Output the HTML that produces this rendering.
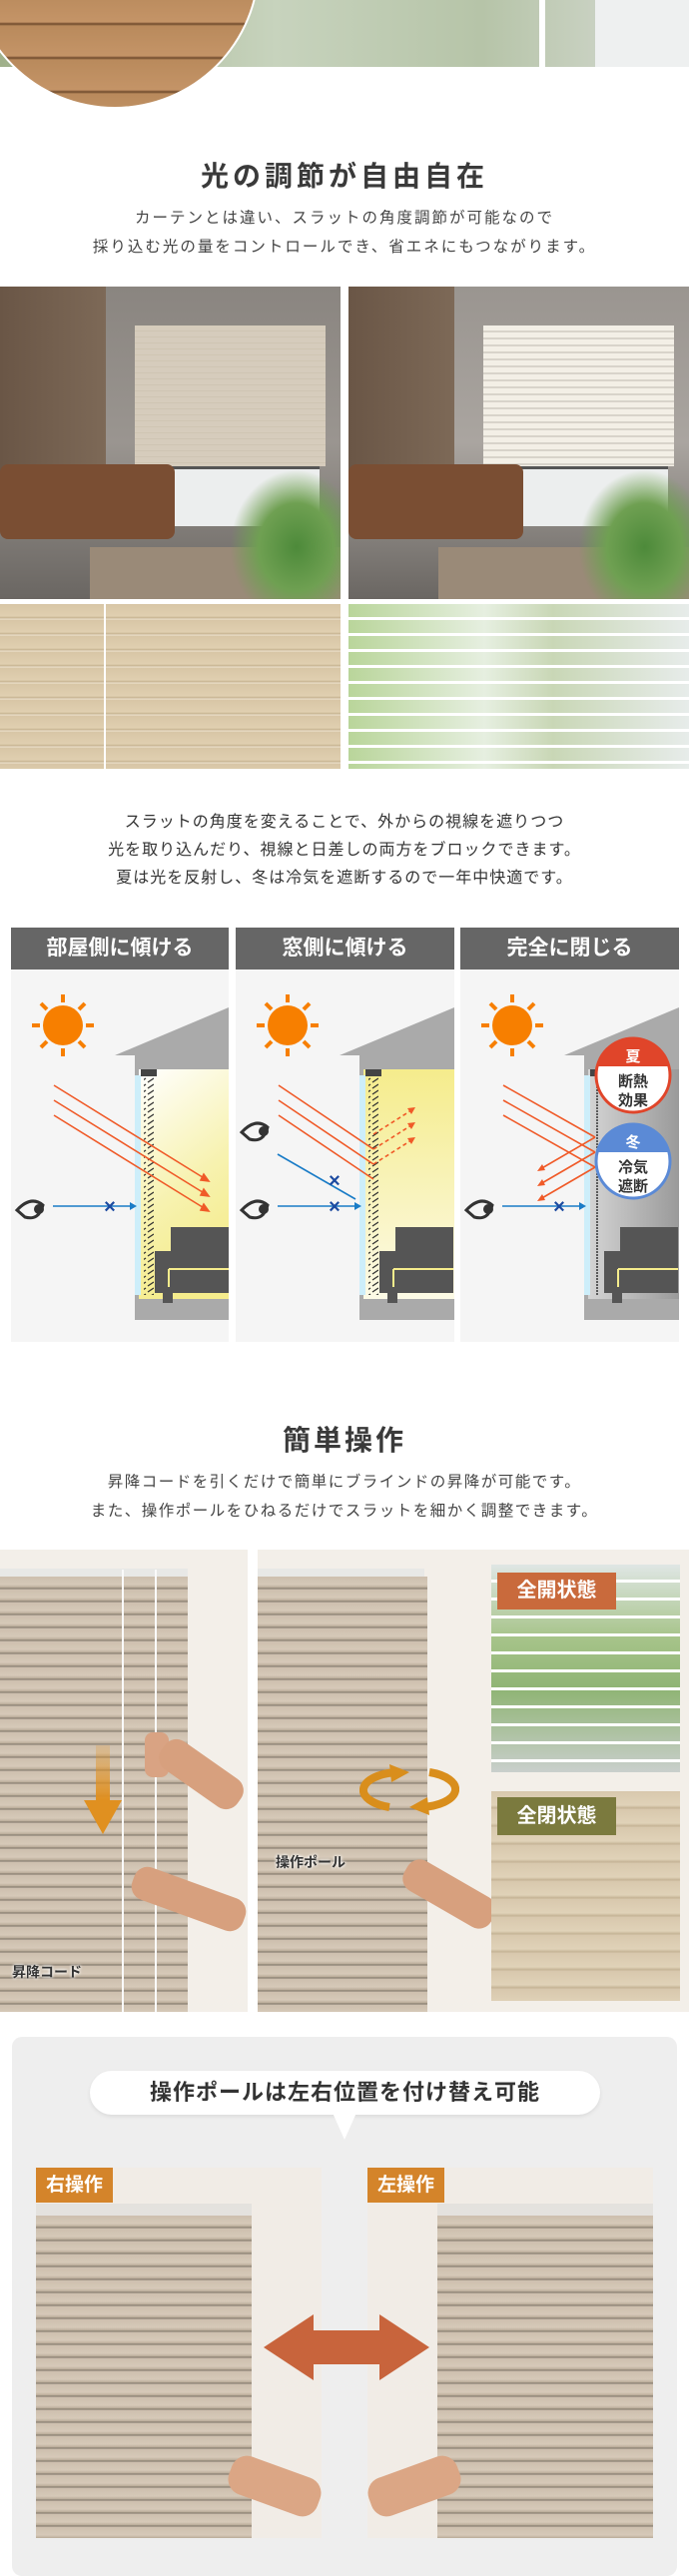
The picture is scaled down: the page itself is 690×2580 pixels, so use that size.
<!DOCTYPE html>
<html><head><meta charset="utf-8">
<style>
*{margin:0;padding:0;box-sizing:border-box}
body{width:690px;height:2560px;background:#fff;position:relative;overflow:hidden;font-family:"Liberation Sans","Noto Sans CJK JP",sans-serif;color:#333}
.a{position:absolute}
.t{position:absolute;left:0;width:690px;text-align:center}
.slat{background:repeating-linear-gradient(180deg,#cdbfae 0,#d6c9b8 8px,#b9ab99 11px,#7d7468 12px,#cdbfae 13px)}
.hd{position:absolute;top:929px;height:42px;background:#666;color:#fff;font-size:21px;font-weight:bold;text-align:center;line-height:42px}
.badge{position:absolute;color:#fff;font-weight:bold;text-align:center}
</style></head><body>

<!-- top strip -->
<div class="a" style="left:0;top:0;width:690px;height:67px;background:linear-gradient(90deg,#9fb08a,#c7d3bd 40%,#b6c4a8 70%,#d8dcd6)"></div>
<div class="a" style="left:540px;top:0;width:6px;height:67px;background:#fff"></div>
<div class="a" style="left:596px;top:0;width:94px;height:67px;background:#eef0f0"></div>
<div class="a" style="left:-30px;top:-180px;width:290px;height:289px;border-radius:50%;background:repeating-linear-gradient(180deg,#b98a5c 0,#c49467 30px,#6e4a2c 32px,#b98a5c 34px);border:2px solid #fff"></div>

<div class="t" style="top:155px;font-size:28px;font-weight:bold;letter-spacing:4px;color:#3a3a3a">光の調節が自由自在</div>
<div class="t" style="top:204px;font-size:15.5px;line-height:29px;letter-spacing:2px;color:#444">カーテンとは違い、スラットの角度調節が可能なので<br>採り込む光の量をコントロールでき、省エネにもつながります。</div>

<!-- room photos -->
<div class="a" style="left:0;top:287px;width:341px;height:313px;background:linear-gradient(180deg,#8a8580,#9a9590 50%,#6a6662)"></div>
<div class="a" style="left:0;top:287px;width:106px;height:230px;background:linear-gradient(90deg,#6a5646,#7d6957)"></div>
<div class="a" style="left:135px;top:326px;width:191px;height:141px;background:repeating-linear-gradient(180deg,#d6ccbc 0,#d6ccbc 5px,#c8bdab 6px)"></div>
<div class="a" style="left:140px;top:467px;width:180px;height:60px;background:#eceeee;border-top:3px solid #555"></div>
<div class="a" style="left:0;top:465px;width:175px;height:75px;background:#7a4e33;border-radius:8px"></div>
<div class="a" style="left:90px;top:548px;width:251px;height:52px;background:#9a8a78"></div>
<div class="a" style="left:230px;top:470px;width:111px;height:130px;background:radial-gradient(ellipse at 60% 60%,#4d8a3a,#6fa052 40%,transparent 70%)"></div>

<div class="a" style="left:349px;top:287px;width:341px;height:313px;background:linear-gradient(180deg,#9a9590,#aaa5a0 50%,#6a6662)"></div>
<div class="a" style="left:349px;top:287px;width:106px;height:230px;background:linear-gradient(90deg,#6a5646,#7d6957)"></div>
<div class="a" style="left:484px;top:326px;width:191px;height:141px;background:repeating-linear-gradient(180deg,#f3efe6 0,#f3efe6 5px,#bdb8ae 6px,#f3efe6 7px)"></div>
<div class="a" style="left:489px;top:467px;width:180px;height:60px;background:#eceeee;border-top:3px solid #555"></div>
<div class="a" style="left:349px;top:465px;width:175px;height:75px;background:#7a4e33;border-radius:8px"></div>
<div class="a" style="left:439px;top:548px;width:251px;height:52px;background:#9a8a78"></div>
<div class="a" style="left:579px;top:470px;width:111px;height:130px;background:radial-gradient(ellipse at 60% 60%,#4d8a3a,#6fa052 40%,transparent 70%)"></div>

<!-- slat closeups -->
<div class="a" style="left:0;top:605px;width:341px;height:165px;background:repeating-linear-gradient(180deg,#d8c6a6 0,#e0cfb0 12px,#c6b290 14px,#f0e6d4 15px,#d8c6a6 16px)"></div>
<div class="a" style="left:104px;top:605px;width:2px;height:165px;background:#fff"></div>
<div class="a" style="left:349px;top:605px;width:341px;height:165px;background:linear-gradient(90deg,#b9d59a,#e6efe0 40%,#c9d7b6 60%,#e7ecea)"></div>
<div class="a" style="left:349px;top:605px;width:341px;height:165px;background:repeating-linear-gradient(180deg,transparent 0,transparent 13px,#fff 13px,#fff 16px)"></div>

<!-- section 2 text -->
<div class="t" style="top:810px;font-size:16px;line-height:28px;letter-spacing:1px;color:#333">スラットの角度を変えることで、外からの視線を遮りつつ<br>光を取り込んだり、視線と日差しの両方をブロックできます。<br>夏は光を反射し、冬は冷気を遮断するので一年中快適です。</div>

<div class="hd" style="left:11px;width:218px">部屋側に傾ける</div>
<div class="hd" style="left:236px;width:219px">窓側に傾ける</div>
<div class="hd" style="left:461px;width:219px">完全に閉じる</div>

<!-- panels -->
<svg class="a" style="left:11px;top:971px" width="669" height="373" viewBox="0 0 669 373">
<defs>
<linearGradient id="y1" x1="0" y1="0" x2="0.3" y2="1"><stop offset="0" stop-color="#fff"/><stop offset="0.6" stop-color="#f7f2b0"/><stop offset="1" stop-color="#f5ec8c"/></linearGradient>
<linearGradient id="y2" x1="0" y1="0" x2="0" y2="1"><stop offset="0" stop-color="#f5ec8c"/><stop offset="1" stop-color="#fcfae6"/></linearGradient>
<linearGradient id="g3" x1="0" y1="0" x2="1" y2="0"><stop offset="0" stop-color="#d4d4d4"/><stop offset="1" stop-color="#9a9a9a"/></linearGradient>
<pattern id="h" width="8" height="6" patternUnits="userSpaceOnUse"><line x1="1" y1="5" x2="7" y2="1" stroke="#333" stroke-width="1.3"/></pattern>
<g id="sun"><circle cx="52" cy="56" r="20" fill="#f77f00"/>
<g stroke="#f77f00" stroke-width="4"><line x1="52" y1="25" x2="52" y2="33"/><line x1="52" y1="79" x2="52" y2="87"/><line x1="21" y1="56" x2="29" y2="56"/><line x1="75" y1="56" x2="83" y2="56"/><line x1="30" y1="34" x2="36" y2="40"/><line x1="68" y1="72" x2="74" y2="78"/><line x1="74" y1="34" x2="68" y2="40"/><line x1="30" y1="78" x2="36" y2="72"/></g></g>
<g id="sofa" fill="#555"><rect x="160" y="258" width="58" height="50"/><rect x="144" y="282" width="74" height="42"/><rect x="152" y="324" width="10" height="10"/><path d="M158 300 H218 M158 300 V318" stroke="#f5ec8c" stroke-width="2" fill="none"/></g>
<g id="eye"><path d="M6 241 Q20 226 32 236 Q28 252 14 248 Z" fill="none" stroke="#333" stroke-width="3"/><circle cx="28" cy="240" r="5" fill="#333"/></g>
</defs>
<!-- panel 1 -->
<rect x="0" y="0" width="218" height="373" fill="#f5f5f5"/>
<use href="#sun"/>
<polygon points="104,86 218,38 218,351 124,351 124,86" fill="#aaa"/>
<rect x="128" y="100" width="90" height="230" fill="url(#y1)"/>
<rect x="124" y="106" width="6" height="220" fill="#cdeefa"/>
<rect x="130" y="100" width="16" height="7" fill="#444"/>
<rect x="133" y="108" width="10" height="218" fill="url(#h)"/>
<use href="#sofa"/>
<g stroke="#f05a28" stroke-width="1.6" fill="#f05a28"><line x1="43" y1="116" x2="195" y2="210"/><line x1="43" y1="131" x2="195" y2="225"/><line x1="43" y1="146" x2="195" y2="240"/>
<polygon points="198,212 190,211 193,205"/><polygon points="198,227 190,226 193,220"/><polygon points="198,242 190,241 193,235"/></g>
<use href="#eye"/>
<line x1="42" y1="237" x2="120" y2="237" stroke="#1a7cc7" stroke-width="1.6"/><polygon points="126,237 119,233 119,241" fill="#1a7cc7"/>
<text x="99" y="244" font-size="20" font-weight="bold" fill="#1c4aa0" text-anchor="middle" font-family="Liberation Sans">×</text>
<!-- panel 2 -->
<g transform="translate(225,0)">
<rect x="0" y="0" width="219" height="373" fill="#f5f5f5"/>
<use href="#sun"/>
<polygon points="104,86 219,38 219,351 124,351 124,86" fill="#aaa"/>
<rect x="128" y="100" width="91" height="230" fill="url(#y2)"/>
<rect x="124" y="106" width="6" height="220" fill="#cdeefa"/>
<rect x="130" y="100" width="16" height="7" fill="#444"/>
<rect x="133" y="108" width="10" height="218" fill="url(#h)"/>
<use href="#sofa"/>
<g stroke="#f05a28" stroke-width="1.6"><line x1="43" y1="116" x2="138" y2="180"/><line x1="43" y1="131" x2="138" y2="195"/><line x1="43" y1="146" x2="138" y2="210"/>
<g stroke-dasharray="4 3"><line x1="138" y1="165" x2="176" y2="141"/><line x1="138" y1="180" x2="176" y2="156"/><line x1="138" y1="195" x2="176" y2="171"/></g></g>
<g fill="#f05a28"><polygon points="180,138 172,139 176,145"/><polygon points="180,153 172,154 176,160"/><polygon points="180,168 172,169 176,175"/></g>
<use href="#eye" transform="translate(0,-78)"/>
<use href="#eye"/>
<line x1="42" y1="185" x2="120" y2="230" stroke="#1a7cc7" stroke-width="1.6"/>
<line x1="42" y1="237" x2="120" y2="237" stroke="#1a7cc7" stroke-width="1.6"/><polygon points="126,237 119,233 119,241" fill="#1a7cc7"/>
<text x="99" y="218" font-size="20" font-weight="bold" fill="#1c4aa0" text-anchor="middle" font-family="Liberation Sans">×</text>
<text x="99" y="244" font-size="20" font-weight="bold" fill="#1c4aa0" text-anchor="middle" font-family="Liberation Sans">×</text>
</g>
<!-- panel 3 -->
<g transform="translate(450,0)">
<rect x="0" y="0" width="219" height="373" fill="#f5f5f5"/>
<use href="#sun"/>
<polygon points="104,86 219,38 219,351 124,351 124,86" fill="#aaa"/>
<rect x="128" y="100" width="91" height="230" fill="url(#g3)"/>
<rect x="124" y="106" width="6" height="220" fill="#cdeefa"/>
<rect x="130" y="100" width="16" height="7" fill="#444"/>
<line x1="137" y1="108" x2="137" y2="326" stroke="#333" stroke-width="1.5" stroke-dasharray="2 1"/>
<use href="#sofa"/>
<g stroke="#f05a28" stroke-width="1.6"><line x1="43" y1="116" x2="135" y2="168"/><line x1="43" y1="131" x2="135" y2="183"/><line x1="43" y1="146" x2="135" y2="198"/>
<line x1="135" y1="168" x2="80" y2="200"/><line x1="135" y1="183" x2="80" y2="215"/><line x1="135" y1="198" x2="80" y2="230"/></g>
<g fill="#f05a28"><polygon points="77,202 82,195 85,201"/><polygon points="77,217 82,210 85,216"/><polygon points="77,232 82,225 85,231"/></g>
<use href="#eye"/>
<line x1="42" y1="237" x2="120" y2="237" stroke="#1a7cc7" stroke-width="1.6"/><polygon points="126,237 119,233 119,241" fill="#1a7cc7"/>
<text x="99" y="244" font-size="20" font-weight="bold" fill="#1c4aa0" text-anchor="middle" font-family="Liberation Sans">×</text>
<circle cx="173" cy="106" r="37" fill="#fff" stroke="#e0452a" stroke-width="3"/>
<path d="M137 97 A37 37 0 0 1 209 97 Z" fill="#e0452a"/>
<text x="173" y="92" font-size="15" font-weight="bold" fill="#fff" text-anchor="middle" font-family="Noto Sans CJK JP">夏</text>
<text x="173" y="117" font-size="15" font-weight="bold" fill="#333" text-anchor="middle" font-family="Noto Sans CJK JP">断熱</text>
<text x="173" y="136" font-size="15" font-weight="bold" fill="#333" text-anchor="middle" font-family="Noto Sans CJK JP">効果</text>
<circle cx="173" cy="192" r="37" fill="#fff" stroke="#5b8ad6" stroke-width="3"/>
<path d="M137 183 A37 37 0 0 1 209 183 Z" fill="#5b8ad6"/>
<text x="173" y="178" font-size="15" font-weight="bold" fill="#fff" text-anchor="middle" font-family="Noto Sans CJK JP">冬</text>
<text x="173" y="203" font-size="15" font-weight="bold" fill="#333" text-anchor="middle" font-family="Noto Sans CJK JP">冷気</text>
<text x="173" y="222" font-size="15" font-weight="bold" fill="#333" text-anchor="middle" font-family="Noto Sans CJK JP">遮断</text>
</g>
</svg>

<!-- section 3 -->
<div class="t" style="top:1421px;font-size:28px;font-weight:bold;letter-spacing:3px;color:#3a3a3a">簡単操作</div>
<div class="t" style="top:1470px;font-size:15.5px;line-height:29px;letter-spacing:1.5px;color:#444">昇降コードを引くだけで簡単にブラインドの昇降が可能です。<br>また、操作ポールをひねるだけでスラットを細かく調整できます。</div>

<div class="a" style="left:0;top:1552px;width:248px;height:463px;background:#f3efe9"></div>
<div class="a" style="left:0;top:1571px;width:188px;height:8px;background:#e8e8e6"></div>
<div class="a slat" style="left:0;top:1579px;width:188px;height:436px"></div>
<div class="a" style="left:122px;top:1572px;width:2px;height:443px;background:#fafafa"></div>
<div class="a" style="left:155px;top:1572px;width:2px;height:443px;background:#fafafa"></div>
<div class="a" style="left:145px;top:1735px;width:24px;height:45px;background:#d9a383;border-radius:8px"></div>
<div class="a" style="left:155px;top:1760px;width:93px;height:34px;background:#d7a07e;transform:rotate(35deg);border-radius:14px"></div>
<div class="a" style="left:130px;top:1885px;width:118px;height:34px;background:#d7a07e;transform:rotate(20deg);border-radius:14px"></div>
<div class="a" style="left:96px;top:1748px;width:14px;height:55px;background:linear-gradient(180deg,rgba(230,150,40,.2),#e09020)"></div>
<div class="a" style="left:84px;top:1803px;width:0;height:0;border-left:19px solid transparent;border-right:19px solid transparent;border-top:34px solid #e09020"></div>
<div class="a" style="left:12px;top:1965px;font-size:14px;font-weight:bold;color:#333;text-shadow:0 0 3px #fff,0 0 3px #fff">昇降コード</div>

<div class="a" style="left:258px;top:1552px;width:432px;height:463px;background:#f3efe9"></div>
<div class="a" style="left:258px;top:1571px;width:167px;height:8px;background:#e8e8e6"></div>
<div class="a slat" style="left:258px;top:1579px;width:170px;height:436px"></div>
<div class="a" style="left:400px;top:1880px;width:100px;height:34px;background:#d7a07e;transform:rotate(30deg);border-radius:14px"></div>
<svg class="a" style="left:360px;top:1765px" width="100" height="55"><path d="M38 10 A38 18 0 0 0 30 45" fill="none" stroke="#d98e1c" stroke-width="8"/><polygon points="30,2 50,10 32,20" fill="#d98e1c"/><path d="M62 45 A38 18 0 0 0 70 10" fill="none" stroke="#d98e1c" stroke-width="8"/><polygon points="70,53 50,45 68,35" fill="#d98e1c"/></svg>
<div class="a" style="left:276px;top:1855px;font-size:14px;font-weight:bold;color:#333;text-shadow:0 0 3px #fff,0 0 3px #fff">操作ポール</div>

<div class="a" style="left:492px;top:1567px;width:189px;height:208px;background:linear-gradient(180deg,#dfe6e4,#a7c48a 35%,#8fb474 60%,#c9cfcc)"></div>
<div class="a" style="left:492px;top:1567px;width:189px;height:208px;background:repeating-linear-gradient(180deg,transparent 0,transparent 15px,#fff 15px,#fff 18px)"></div>
<div class="badge" style="left:498px;top:1575px;width:119px;height:37px;background:#c96a3c;font-size:20px;line-height:37px">全開状態</div>
<div class="a" style="left:492px;top:1794px;width:189px;height:210px;background:repeating-linear-gradient(180deg,#d8c8ad 0,#e0d2b8 14px,#c4b294 17px,#d8c8ad 18px)"></div>
<div class="badge" style="left:498px;top:1800px;width:119px;height:38px;background:#7b7a3e;font-size:20px;line-height:38px">全閉状態</div>

<!-- section 4 -->
<div class="a" style="left:12px;top:2040px;width:666px;height:540px;background:#eeeeee;border-radius:10px"></div>
<div class="a" style="left:90px;top:2074px;width:511px;height:44px;background:#fff;border-radius:22px;box-shadow:0 2px 4px rgba(0,0,0,.08);font-size:22px;font-weight:bold;text-align:center;line-height:44px;color:#333;letter-spacing:1px">操作ポールは左右位置を付け替え可能</div>
<div class="a" style="left:333px;top:2116px;width:0;height:0;border-left:12px solid transparent;border-right:12px solid transparent;border-top:27px solid #fff"></div>

<div class="a" style="left:36px;top:2171px;width:286px;height:371px;background:#f1ece6"></div>
<div class="a" style="left:36px;top:2207px;width:216px;height:12px;background:#e4e2de"></div>
<div class="a slat" style="left:36px;top:2219px;width:216px;height:323px"></div>
<div class="a" style="left:228px;top:2470px;width:94px;height:40px;background:#dba685;transform:rotate(20deg);border-radius:16px"></div>
<div class="badge" style="left:36px;top:2171px;width:77px;height:35px;background:#d4842a;font-size:19px;line-height:35px">右操作</div>

<div class="a" style="left:368px;top:2171px;width:286px;height:371px;background:#f1ece6"></div>
<div class="a" style="left:438px;top:2207px;width:216px;height:12px;background:#e4e2de"></div>
<div class="a slat" style="left:438px;top:2219px;width:216px;height:323px"></div>
<div class="a" style="left:368px;top:2470px;width:94px;height:40px;background:#dba685;transform:rotate(-20deg);border-radius:16px"></div>
<div class="badge" style="left:368px;top:2171px;width:77px;height:35px;background:#d4842a;font-size:19px;line-height:35px">左操作</div>

<svg class="a" style="left:264px;top:2318px" width="166" height="66"><polygon points="0,33 50,0 50,16 116,16 116,0 166,33 116,66 116,50 50,50 50,66" fill="#c8643c"/></svg>
</body></html>
